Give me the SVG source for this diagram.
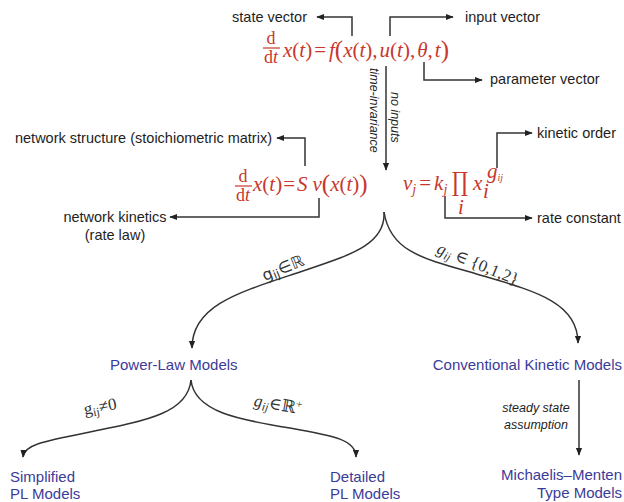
<svg xmlns="http://www.w3.org/2000/svg" width="624" height="502" viewBox="0 0 624 502">
<style>
.lbl{font-family:"Liberation Sans",Arial,sans-serif;font-size:14.5px;fill:#1e1e1e}
.blue{font-family:"Liberation Sans",Arial,sans-serif;font-size:15px;fill:#3b3b98}
.it{font-family:"Liberation Sans",Arial,sans-serif;font-style:italic;font-size:12.5px;fill:#1e1e1e}
.eq{font-family:"Liberation Serif","Times New Roman",serif;font-size:21px;fill:#c8372d}
.fq{font-family:"Liberation Serif","Times New Roman",serif;font-size:18px;fill:#c8372d}
.i{font-style:italic}
.cl{font-family:"Liberation Serif","DejaVu Serif",serif;font-size:17px;fill:#333}
.con{fill:none;stroke:#333;stroke-width:1.5;marker-end:url(#ah)}
.fr{stroke:#c8372d;stroke-width:1.2}
</style>
<defs>
<marker id="ah" viewBox="0 0 10 10" refX="9" refY="5" markerWidth="8" markerHeight="8" orient="auto" markerUnits="userSpaceOnUse">
<path d="M0,1 L10,5 L0,9 z" fill="#222"/>
</marker>
</defs>
<rect width="624" height="502" fill="#fff"/>

<g id="connectors">
<path class="con" d="M352,36 V17 H317"/>
<path class="con" d="M390,36 V17 H453"/>
<path class="con" d="M424,62 V80 H482"/>
<path class="con" d="M386,66 V170"/>
<path class="con" d="M305,166 V138 H277"/>
<path class="con" d="M319,198 V217 H170"/>
<path class="con" d="M497,168 V133 H532"/>
<path class="con" d="M445,196 V218 H532"/>
<path class="con" d="M384,212 C386,245 350,255 300,272 C240,292 192,305 192,348"/>
<path class="con" d="M384,212 C390,250 420,258 470,272 C530,290 578,300 578,343"/>
<path class="con" d="M191,380 C188,412 150,420 90,432 C40,442 24,445 23,457"/>
<path class="con" d="M191,380 C194,412 240,420 290,428 C335,436 356,440 356,457"/>
<path class="con" d="M579,380 V455"/>
</g>

<g id="eq-top">
<text class="fq" x="271" y="44" text-anchor="middle">d</text>
<line class="fr" x1="263" y1="48" x2="280" y2="48"/>
<text class="fq" x="271" y="63" text-anchor="middle">d<tspan class="i">t</tspan></text>
<text class="eq" x="283" y="57"><tspan class="i">x</tspan>(<tspan class="i">t</tspan>)<tspan dx="2">=</tspan><tspan class="i" dx="3">f</tspan><tspan font-size="25" dy="1">(</tspan><tspan class="i" dy="-1">x</tspan>(<tspan class="i">t</tspan>),<tspan class="i" dx="2">u</tspan>(<tspan class="i">t</tspan>),<tspan class="i" dx="2">θ</tspan>,<tspan class="i" dx="2">t</tspan><tspan font-size="25" dy="1">)</tspan></text>
</g>

<g id="state-vector"><text class="lbl" x="307" y="22" text-anchor="end">state vector</text></g>
<g id="input-vector"><text class="lbl" x="465" y="22">input vector</text></g>
<g id="parameter-vector"><text class="lbl" x="490" y="84">parameter vector</text></g>

<g id="central-labels">
<text class="it" transform="translate(370,68) rotate(90)">time-invariance</text>
<text class="it" transform="translate(391,92) rotate(90)">no inputs</text>
</g>

<g id="network-structure"><text class="lbl" x="272" y="143" text-anchor="end">network structure (stoichiometric matrix)</text></g>
<g id="network-kinetics">
<text class="lbl" x="115" y="222" text-anchor="middle">network kinetics</text>
<text class="lbl" x="115" y="240" text-anchor="middle">(rate law)</text>
</g>

<g id="eq-network">
<text class="fq" x="243" y="182" text-anchor="middle">d</text>
<line class="fr" x1="235" y1="186" x2="252" y2="186"/>
<text class="fq" x="243" y="201" text-anchor="middle">d<tspan class="i">t</tspan></text>
<text class="eq" x="253" y="191"><tspan class="i">x</tspan>(<tspan class="i">t</tspan>)<tspan dx="1">=</tspan><tspan class="i" dx="2">S</tspan><tspan class="i" dx="5">v</tspan><tspan font-size="25" dy="1">(</tspan><tspan class="i" dy="-1">x</tspan>(<tspan class="i">t</tspan>)<tspan font-size="25" dy="1">)</tspan></text>
</g>

<g id="eq-rate">
<text class="eq" x="403" y="190"><tspan class="i">v</tspan><tspan class="i" font-size="14" dy="4">j</tspan><tspan dy="-4" dx="3">=</tspan><tspan class="i" dx="3">k</tspan><tspan class="i" font-size="14" dy="4">j</tspan></text>
<text transform="translate(452,191) scale(1,1.3)" style="font-family:'DejaVu Serif',serif;font-size:20px;fill:#c8372d">∏</text>
<text class="eq i" x="458" y="214" font-size="13">i</text>
<text class="eq i" x="473" y="190">x</text>
<text class="eq i" x="483" y="198" font-size="13">i</text>
<text class="eq i" x="487" y="178" font-size="14">g<tspan font-size="10" dy="3">ij</tspan></text>
</g>

<g id="kinetic-order"><text class="lbl" x="537" y="138">kinetic order</text></g>
<g id="rate-constant"><text class="lbl" x="537" y="223">rate constant</text></g>

<g id="branch-labels">
<text transform="translate(285,273) rotate(-22)" text-anchor="middle" style="font-family:'DejaVu Sans',sans-serif;font-size:16px;fill:#333">g<tspan font-size="12" dy="2">ij</tspan><tspan dy="-2">∈ℝ</tspan></text>
<text class="cl" transform="translate(476,269) rotate(22)" text-anchor="middle"><tspan class="i">g</tspan><tspan class="i" font-size="12" dy="3">ij</tspan><tspan dy="-3"> ∈ {0,1,2}</tspan></text>
<text class="cl" transform="translate(101,412) rotate(-10)" text-anchor="middle">g<tspan font-size="12" dy="3">ij</tspan><tspan dy="-3">≠0</tspan></text>
<text class="cl" transform="translate(277,410) rotate(10)" text-anchor="middle"><tspan class="i">g</tspan><tspan class="i" font-size="12" dy="3">ij</tspan><tspan dy="-3">∈ℝ</tspan><tspan font-size="11" dy="-6">+</tspan></text>
</g>

<g id="power-law"><text class="blue" x="110" y="370">Power-Law Models</text></g>
<g id="conventional"><text class="blue" x="622" y="370" text-anchor="end">Conventional Kinetic Models</text></g>
<g id="simplified">
<text class="blue" x="10" y="482">Simplified</text>
<text class="blue" x="10" y="499">PL Models</text>
</g>
<g id="detailed">
<text class="blue" x="330" y="482">Detailed</text>
<text class="blue" x="330" y="499">PL Models</text>
</g>
<g id="michaelis">
<text class="blue" x="622" y="480" text-anchor="end">Michaelis–Menten</text>
<text class="blue" x="622" y="498" text-anchor="end">Type Models</text>
</g>
<g id="steady-state">
<text class="it" x="536" y="412" text-anchor="middle">steady state</text>
<text class="it" x="536" y="429" text-anchor="middle">assumption</text>
</g>
</svg>
